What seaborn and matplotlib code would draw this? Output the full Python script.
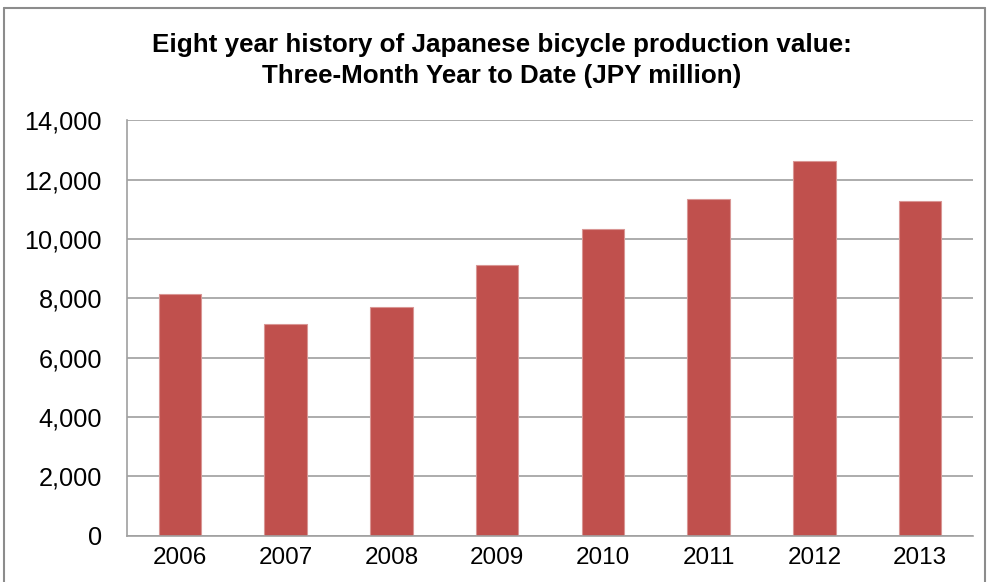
import matplotlib
matplotlib.use("Agg")
import matplotlib.pyplot as plt
import seaborn as sns
from matplotlib.lines import Line2D
from matplotlib.ticker import FuncFormatter

years = ["2006", "2007", "2008", "2009", "2010", "2011", "2012", "2013"]
values = [8150, 7150, 7720, 9135, 10335, 11345, 12630, 11285]
yticks = [0, 2000, 4000, 6000, 8000, 10000, 12000, 14000]
title_lines = ["Eight year history of Japanese bicycle production value:",
               "Three-Month Year to Date (JPY million)"]

sns.set_theme(style="white")
plt.rcParams['font.family'] = ['Liberation Sans', 'DejaVu Sans']

W, H = 990, 582
fig = plt.figure(figsize=(W / 100, H / 100), dpi=100)
fig.patch.set_facecolor("white")

left, right, top, bottom = 127, 973, 120.5, 535.7
ax = fig.add_axes([left / W, 1 - bottom / H, (right - left) / W, (bottom - top) / H])

sns.barplot(x=years, y=values, color="#C0504D", saturation=1, width=0.4,
            edgecolor="#D99694", linewidth=0.8, ax=ax)

ax.set_xlim(-0.5, len(years) - 0.5)
ax.set_ylim(0, 14000)
ax.set_yticks(yticks)
ax.yaxis.set_major_formatter(FuncFormatter(lambda v, p: f"{int(v):,}"))
ax.set_axisbelow(True)
ax.yaxis.grid(True, color="#A6A6A6", linewidth=1.3)
ax.xaxis.grid(False)
for s in ["top", "right"]:
    ax.spines[s].set_visible(False)
for s in ["left", "bottom"]:
    ax.spines[s].set_color("#A0A0A0")
    ax.spines[s].set_linewidth(1.2)
ax.tick_params(axis="y", length=0, pad=18, labelsize=18.2, labelcolor="#000000")
ax.tick_params(axis="x", length=0, pad=8, labelsize=17.5, labelcolor="#000000")
ax.set_xlabel("")
ax.set_ylabel("")

fig.text(502 / W, 1 - 45 / H, title_lines[0], ha="center", va="center",
         fontsize=18.7, fontweight="bold", color="#000000")
fig.text(502 / W, 1 - 76 / H, title_lines[1], ha="center", va="center",
         fontsize=18.7, fontweight="bold", color="#000000")

# outer chart frame
frame_kw = dict(color="#8C8C8C", linewidth=1.5, transform=None)
fig.lines.append(Line2D([4, 4], [0, H - 8], **frame_kw))
fig.lines.append(Line2D([4, 985], [H - 8, H - 8], **frame_kw))
fig.lines.append(Line2D([985, 985], [0, H - 8], **frame_kw))

fig.savefig("out.png", dpi=100, facecolor="white")
